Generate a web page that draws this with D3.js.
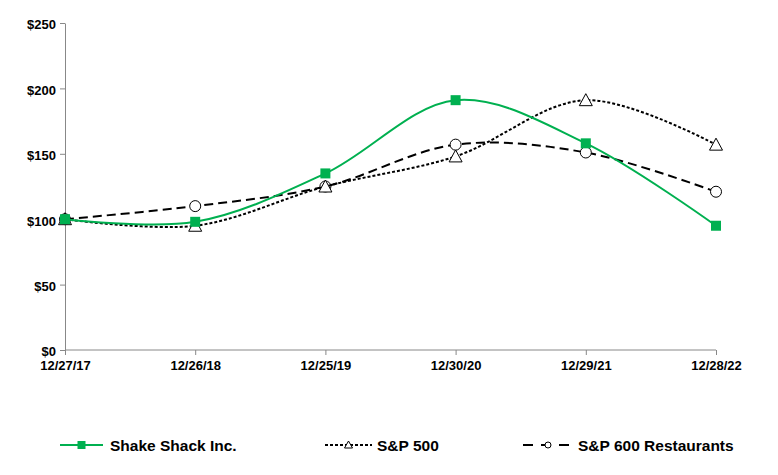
<!DOCTYPE html>
<html lang="en">
<head>
<meta charset="UTF-8">
<title>Cumulative Total Return</title>
<script src="https://d3js.org/d3.v7.min.js"></script>
<style>
  body { margin: 0; background: #fff; }
  text { font-family: "Liberation Sans", Arial, sans-serif; font-weight: bold; fill: #000; }
</style>
</head>
<body>
<div id="chart"></div>
<script>
// data
const dates = ['12/27/17', '12/26/18', '12/25/19', '12/30/20', '12/29/21', '12/28/22'];
const shakeShack = [100, 98, 135, 191, 158, 95];
const sp500 = [100, 95, 125, 148, 191, 157];
const sp600Rest = [100, 110, 125, 157, 151, 121];
const yTicks = [0, 50, 100, 150, 200, 250];

const width = 778, height = 475;
const margin = { top: 23, right: 62, bottom: 125, left: 65 };

const svg = d3.select('#chart').append('svg')
    .attr('width', width)
    .attr('height', height);

const x = d3.scalePoint()
    .domain(dates)
    .range([margin.left, width - margin.right]);

const y = d3.scaleLinear()
    .domain([0, 250])
    .range([height - margin.bottom, margin.top]);

// axes
const yAxis = svg.append('g')
    .attr('transform', `translate(${margin.left},0)`)
    .call(d3.axisLeft(y).tickValues(yTicks).tickFormat(d => '$' + d).tickSize(5).tickSizeOuter(0));
yAxis.selectAll('text').style('font-size', '13px').attr('dx', '-1').attr('dy', '0.45em');

const xAxis = svg.append('g')
    .attr('transform', `translate(0,${y(0)})`)
    .call(d3.axisBottom(x).tickSize(5).tickSizeOuter(0));
xAxis.select('.domain').attr('d', `M${margin.left},0H${width - margin.right}`);
xAxis.selectAll('text').style('font-size', '13px').attr('y', 11).attr('dy', '0.71em');

svg.selectAll('.domain, .tick line').attr('stroke', '#888');

const line = d3.line()
    .x((d, i) => x(dates[i]))
    .y(d => y(d))
    .curve(d3.curveCatmullRom.alpha(0.5));

const series = [
    { name: 'Shake Shack Inc.', values: shakeShack, color: '#00b050', dash: null, legDash: null, marker: 'square', lx: 60, lw: 43, tx: 110 },
    { name: 'S&P 500', values: sp500, color: '#000', dash: '3,2', legDash: '3,2', marker: 'triangle', lx: 325, lw: 47, tx: 377 },
    { name: 'S&P 600 Restaurants', values: sp600Rest, color: '#000', dash: '9,5', legDash: '10,8', marker: 'circle', lx: 523, lw: 50, tx: 578 }
];

function drawMarker(g, type, cx, cy, s) {
    if (type === 'square') {
        g.append('rect').attr('x', cx - s / 2).attr('y', cy - s / 2)
            .attr('width', s).attr('height', s).attr('fill', '#00b050');
    } else if (type === 'triangle') {
        const h = s;
        g.append('path')
            .attr('d', `M${cx},${cy - h / 2 - 1}L${cx + h / 2 + 1},${cy + h / 2}L${cx - h / 2 - 1},${cy + h / 2}Z`)
            .attr('fill', '#fff').attr('stroke', '#000').attr('stroke-width', 1);
    } else {
        g.append('circle').attr('cx', cx).attr('cy', cy).attr('r', s / 2)
            .attr('fill', '#fff').attr('stroke', '#000').attr('stroke-width', 1);
    }
}

// draw in reverse so Shake Shack sits on top
series.slice().reverse().forEach(s => {
    svg.append('path')
        .datum(s.values)
        .attr('d', line)
        .attr('fill', 'none')
        .attr('stroke', s.color)
        .attr('stroke-width', 2)
        .attr('stroke-dasharray', s.dash);
    const mg = svg.append('g');
    s.values.forEach((v, i) => drawMarker(mg, s.marker, x(dates[i]), y(v), s.marker === 'square' ? 10 : 11));
});

// legend
const ly = 445;
series.forEach(s => {
    const g = svg.append('g');
    g.append('line')
        .attr('x1', s.lx).attr('x2', s.lx + s.lw)
        .attr('y1', ly).attr('y2', ly)
        .attr('stroke', s.color)
        .attr('stroke-width', 2)
        .attr('stroke-dasharray', s.legDash);
    drawMarker(g, s.marker, s.lx + s.lw / 2, ly, s.marker === 'square' ? 8 : 6);
    g.append('text')
        .attr('x', s.tx)
        .attr('y', ly)
        .attr('dy', '0.36em')
        .style('font-size', '15.5px')
        .text(s.name);
});
</script>
</body>
</html>
